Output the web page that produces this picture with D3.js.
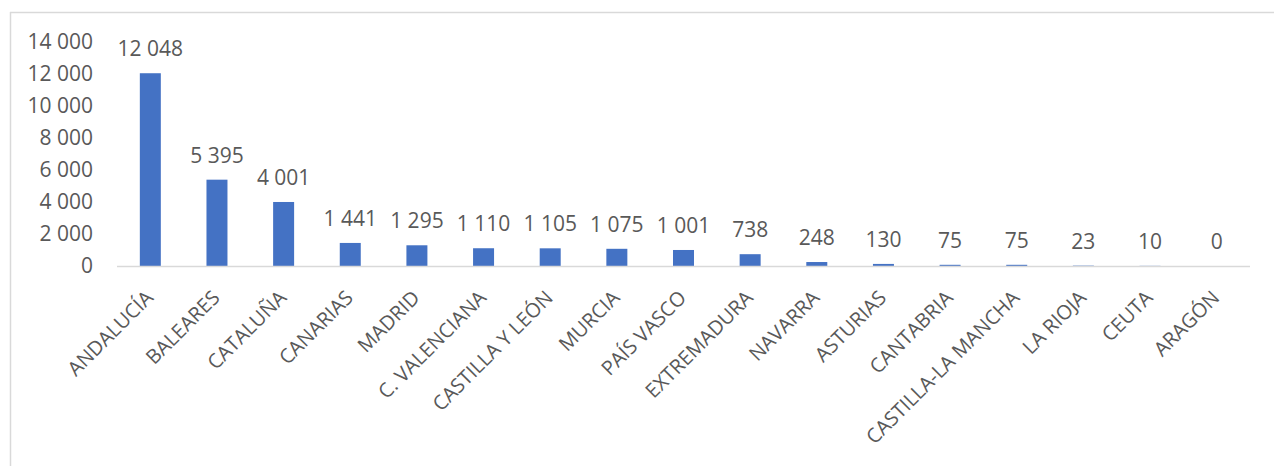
<!DOCTYPE html>
<html>
<head>
<meta charset="utf-8">
<script src="https://cdn.jsdelivr.net/npm/d3@7"></script>
<style>
  html, body { margin: 0; padding: 0; background: #fff; }
  svg { display: block; font-family: "Open Sans", sans-serif; }
</style>
</head>
<body>
<svg id="chart" width="1274" height="466"></svg>
<script>
// Regions and their counts
const regions = ["ANDALUCÍA", "BALEARES", "CATALUÑA", "CANARIAS", "MADRID", "C. VALENCIANA",
  "CASTILLA Y LEÓN", "MURCIA", "PAÍS VASCO", "EXTREMADURA", "NAVARRA", "ASTURIAS",
  "CANTABRIA", "CASTILLA-LA MANCHA", "LA RIOJA", "CEUTA", "ARAGÓN"];
const counts = [12048, 5395, 4001, 1441, 1295, 1110, 1105, 1075, 1001, 738, 248, 130, 75, 75, 23, 10, 0];
const yTicks = [0, 2000, 4000, 6000, 8000, 10000, 12000, 14000];

const svg = d3.select("#chart");
const textColor = "#595959";
const lineColor = "#d9d9d9";

// Frame lines
svg.append("line").attr("x1", 10.5).attr("x2", 10.5).attr("y1", 12).attr("y2", 466)
  .attr("stroke", lineColor).attr("stroke-width", 1.5);
svg.append("line").attr("x1", 10).attr("x2", 1274).attr("y1", 12.5).attr("y2", 12.5)
  .attr("stroke", lineColor).attr("stroke-width", 1.5);

const x0 = 117, x1 = 1250, yBase = 266, yTop = 42;
const x = d3.scaleBand().domain(regions).range([x0, x1]).paddingInner(0.685).paddingOuter(0.3425);
const y = d3.scaleLinear().domain([0, 14000]).range([yBase, yTop]);

const fmt = v => d3.format(",")(v).replace(/,/g, " ");

// Y axis labels
const yAxis = svg.append("g").attr("transform", `translate(${x0},0)`)
  .call(d3.axisLeft(y).tickValues(yTicks).tickFormat(fmt).tickSize(0).tickPadding(24));
yAxis.select(".domain").remove();
yAxis.selectAll("text").attr("fill", textColor).style("font-size", "21px")
  .style("font-family", "Open Sans, sans-serif");

// Bars
svg.append("g").selectAll("rect").data(regions).join("rect")
  .attr("x", d => x(d))
  .attr("width", x.bandwidth())
  .attr("y", (d, i) => y(counts[i]))
  .attr("height", (d, i) => yBase - y(counts[i]))
  .attr("fill", "#4472C4");

// X axis line
svg.append("line").attr("x1", x0).attr("x2", x1).attr("y1", yBase + 0.5).attr("y2", yBase + 0.5)
  .attr("stroke", lineColor).attr("stroke-width", 1.5);

// Value labels
svg.append("g").selectAll("text").data(regions).join("text")
  .attr("x", d => x(d) + x.bandwidth() / 2)
  .attr("y", (d, i) => y(counts[i]) - 17)
  .attr("text-anchor", "middle")
  .attr("fill", textColor)
  .style("font-size", "21px")
  .text((d, i) => fmt(counts[i]));

// Category labels, rotated
svg.append("g").selectAll("text").data(regions).join("text")
  .attr("transform", d => `translate(${x(d) + x.bandwidth() / 2 + 4},${yBase + 33}) rotate(-45)`)
  .attr("text-anchor", "end")
  .attr("fill", textColor)
  .style("font-size", "20px")
  .text(d => d);
</script>
</body>
</html>
